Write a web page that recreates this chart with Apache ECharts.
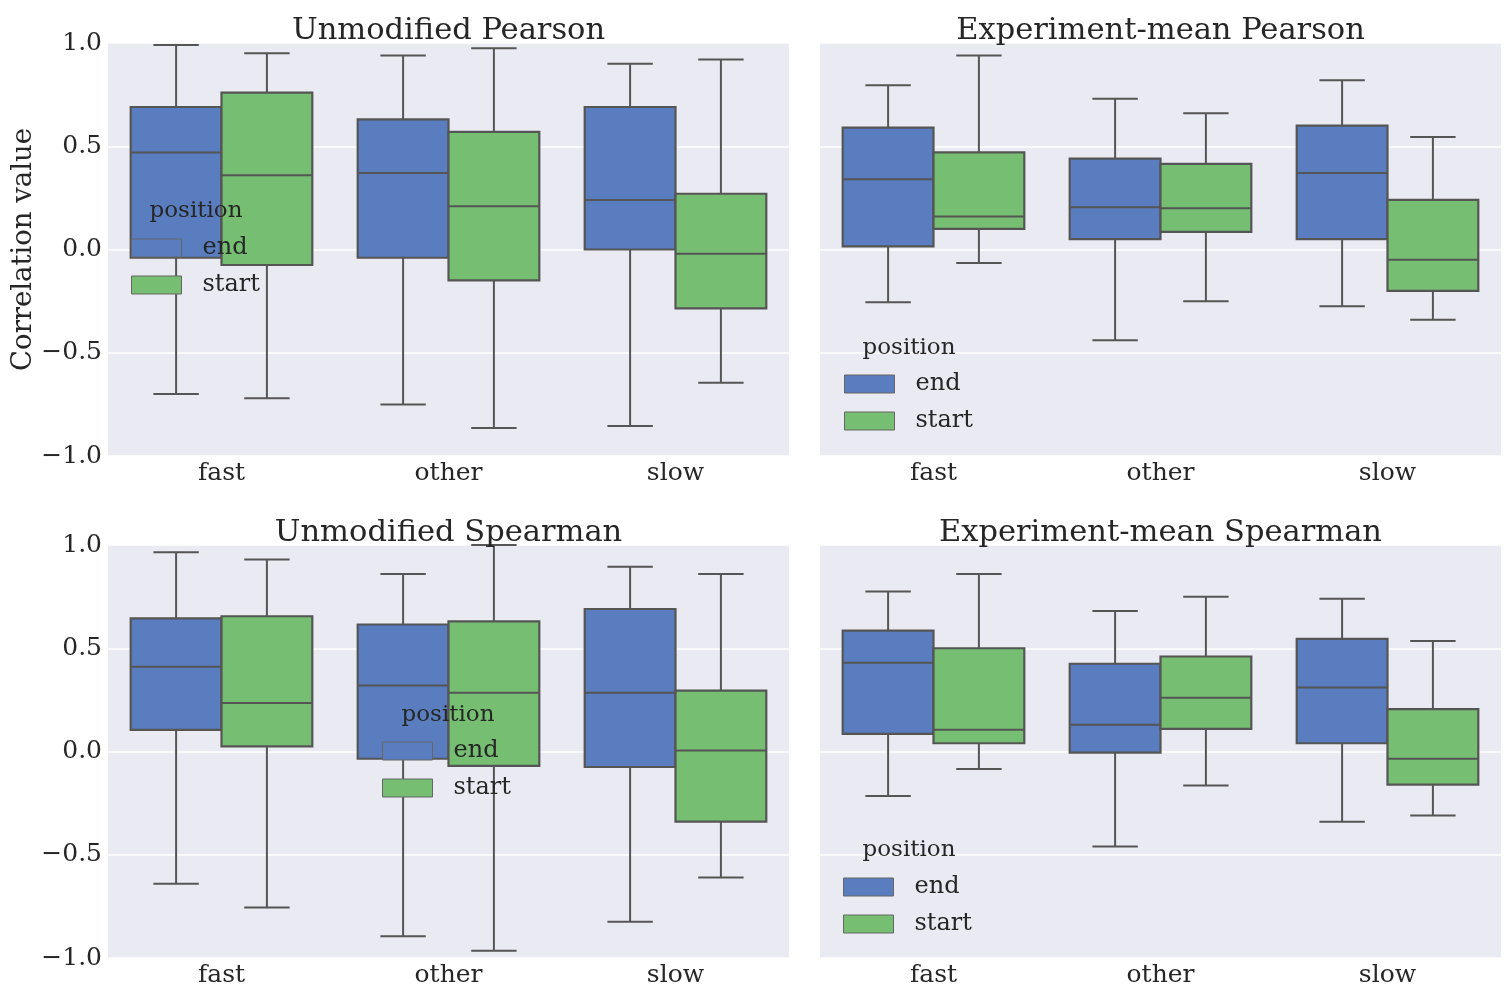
<!DOCTYPE html>
<html>
<head>
<meta charset="utf-8">
<title>Correlation by position</title>
<script src="https://cdn.jsdelivr.net/npm/echarts@6/dist/echarts.min.js"></script>
<style>
  html, body { margin: 0; padding: 0; background: #ffffff; }
  #chart { width: 1510px; height: 988px; }
</style>
</head>
<body>
<div id="chart"></div>
<script>
// Speed categories on the x axis and the two position groups (hue)
const categories = ['fast', 'other', 'slow'];
const positions = ['end', 'start'];
const panelTitles = ['Unmodified Pearson', 'Experiment-mean Pearson', 'Unmodified Spearman', 'Experiment-mean Spearman'];
const yTicks = [-1.0, -0.5, 0.0, 0.5, 1.0];

// Box statistics per category: [lower whisker, Q1, median, Q3, upper whisker]
const pearsonRawEnd = [
  [-0.70, -0.04, 0.47, 0.69, 0.99],
  [-0.75, -0.04, 0.37, 0.63, 0.94],
  [-0.855, 0.00, 0.24, 0.69, 0.90]
];
const pearsonRawStart = [
  [-0.72, -0.075, 0.36, 0.76, 0.95],
  [-0.865, -0.15, 0.21, 0.57, 0.975],
  [-0.645, -0.285, -0.02, 0.27, 0.92]
];
const pearsonMeanEnd = [
  [-0.255, 0.015, 0.34, 0.59, 0.795],
  [-0.44, 0.05, 0.205, 0.44, 0.73],
  [-0.275, 0.05, 0.37, 0.60, 0.82]
];
const pearsonMeanStart = [
  [-0.065, 0.10, 0.16, 0.47, 0.94],
  [-0.25, 0.085, 0.20, 0.415, 0.66],
  [-0.34, -0.20, -0.05, 0.24, 0.545]
];
const spearmanRawEnd = [
  [-0.64, 0.105, 0.41, 0.645, 0.965],
  [-0.895, -0.035, 0.32, 0.615, 0.86],
  [-0.825, -0.075, 0.285, 0.69, 0.895]
];
const spearmanRawStart = [
  [-0.755, 0.025, 0.235, 0.655, 0.93],
  [-0.965, -0.07, 0.285, 0.63, 1.00],
  [-0.61, -0.34, 0.005, 0.295, 0.86]
];
const spearmanMeanEnd = [
  [-0.215, 0.085, 0.43, 0.585, 0.775],
  [-0.46, -0.005, 0.13, 0.425, 0.68],
  [-0.34, 0.04, 0.31, 0.545, 0.74]
];
const spearmanMeanStart = [
  [-0.085, 0.04, 0.105, 0.50, 0.86],
  [-0.165, 0.11, 0.26, 0.46, 0.75],
  [-0.31, -0.16, -0.035, 0.205, 0.535]
];

const panelData = [
  [pearsonRawEnd, pearsonRawStart],
  [pearsonMeanEnd, pearsonMeanStart],
  [spearmanRawEnd, spearmanRawStart],
  [spearmanMeanEnd, spearmanMeanStart]
];

const FONT = 'DejaVu Serif';
const TEXT = '#262626';
const EDGE = '#555555';
const hueColors = ['#597DBE', '#76BF72'];

// Panel geometry (2 x 2)
const gridRects = [
  { left: 108, top: 43, width: 681, height: 413 },
  { left: 820, top: 43, width: 681, height: 413 },
  { left: 108, top: 545, width: 681, height: 413 },
  { left: 820, top: 545, width: 681, height: 413 }
];
const legendSpots = [
  { left: 131, top: 236, titleX: 196, titleY: 211 },
  { left: 844, top: 372, titleX: 909, titleY: 348 },
  { left: 382, top: 739, titleX: 448, titleY: 715 },
  { left: 843, top: 875, titleX: 909, titleY: 850 }
];

function fmt(v) {
  return v.toFixed(1).replace('-', '\u2212');
}

// Seaborn-style box: boxes of one category sit side by side, 0.4 band each
function drawBox(params, api) {
  const cat = api.value(0);
  const hue = api.value(1);
  const band = api.size([1, 0])[0];
  const w = band * 0.4;
  const cx = api.coord([cat, 0])[0] + (hue - 0.5) * w;
  const py = v => api.coord([cat, v])[1];
  const lo = py(api.value(2));
  const q1 = py(api.value(3));
  const med = py(api.value(4));
  const q3 = py(api.value(5));
  const hi = py(api.value(6));
  const ln = () => ({ stroke: EDGE, lineWidth: 2, fill: null });
  return {
    type: 'group',
    children: [
      { type: 'line', shape: { x1: cx, y1: hi, x2: cx, y2: q3 }, style: ln() },
      { type: 'line', shape: { x1: cx, y1: q1, x2: cx, y2: lo }, style: ln() },
      { type: 'line', shape: { x1: cx - w / 4, y1: hi, x2: cx + w / 4, y2: hi }, style: ln() },
      { type: 'line', shape: { x1: cx - w / 4, y1: lo, x2: cx + w / 4, y2: lo }, style: ln() },
      { type: 'rect', shape: { x: cx - w / 2, y: q3, width: w, height: q1 - q3 },
        style: { fill: api.visual('color'), stroke: EDGE, lineWidth: 2.2 } },
      { type: 'line', shape: { x1: cx - w / 2, y1: med, x2: cx + w / 2, y2: med }, style: ln() }
    ]
  };
}

const grids = gridRects.map(r => Object.assign({
  show: true, backgroundColor: '#EAEAF2', borderWidth: 0
}, r));

const xAxes = gridRects.map((r, i) => ({
  type: 'category',
  gridIndex: i,
  data: categories,
  axisLine: { show: false },
  axisTick: { show: false },
  splitLine: { show: false },
  axisLabel: { fontFamily: FONT, fontSize: 25, color: TEXT, margin: 5 }
}));

const yAxes = gridRects.map((r, i) => ({
  type: 'value',
  gridIndex: i,
  min: yTicks[0],
  max: yTicks[yTicks.length - 1],
  interval: 0.5,
  name: i === 0 ? 'Correlation value' : '',
  nameLocation: 'middle',
  nameGap: 70,
  nameTextStyle: { fontFamily: FONT, fontSize: 27.5, color: TEXT },
  axisLine: { show: false },
  axisTick: { show: false },
  splitLine: { show: true, lineStyle: { color: '#ffffff', width: 1.6 } },
  axisLabel: {
    show: i % 2 === 0,
    fontFamily: FONT, fontSize: 25, color: TEXT, margin: 6,
    formatter: fmt
  }
}));

const series = [];
panelData.forEach((pair, p) => {
  pair.forEach((stats, h) => {
    series.push({
      type: 'custom',
      name: positions[h],
      xAxisIndex: p,
      yAxisIndex: p,
      itemStyle: { color: hueColors[h] },
      renderItem: drawBox,
      encode: { x: 0, y: [2, 3, 4, 5, 6] },
      data: stats.map((s, c) => [c, h].concat(s))
    });
  });
});

const titles = gridRects.map((r, i) => ({
  text: panelTitles[i],
  left: r.left + r.width / 2,
  top: r.top - 27,
  textAlign: 'center',
  padding: 0,
  textStyle: { fontFamily: FONT, fontSize: 30.5, fontWeight: 'normal', color: TEXT }
}));

const legends = legendSpots.map(s => ({
  left: s.left,
  top: s.top,
  orient: 'vertical',
  icon: 'rect',
  itemWidth: 50,
  itemHeight: 18,
  itemGap: 13,
  padding: 0,
  selectedMode: false,
  textStyle: { fontFamily: FONT, fontSize: 24, color: TEXT, padding: [0, 0, 0, 16] },
  data: positions.map((name, h) => ({
    name: name,
    itemStyle: { color: hueColors[h], borderColor: '#666666', borderWidth: 1 }
  }))
}));

const legendTitles = legendSpots.map(s => ({
  type: 'text',
  x: s.titleX,
  y: s.titleY,
  z: 100,
  style: {
    text: 'position',
    fontFamily: FONT,
    fontSize: 23,
    fill: TEXT,
    align: 'center',
    verticalAlign: 'middle'
  }
}));

const chart = echarts.init(document.getElementById('chart'), null, { renderer: 'canvas' });
chart.setOption({
  backgroundColor: '#ffffff',
  animation: false,
  title: titles,
  legend: legends,
  grid: grids,
  xAxis: xAxes,
  yAxis: yAxes,
  series: series,
  graphic: legendTitles
});
</script>
</body>
</html>
